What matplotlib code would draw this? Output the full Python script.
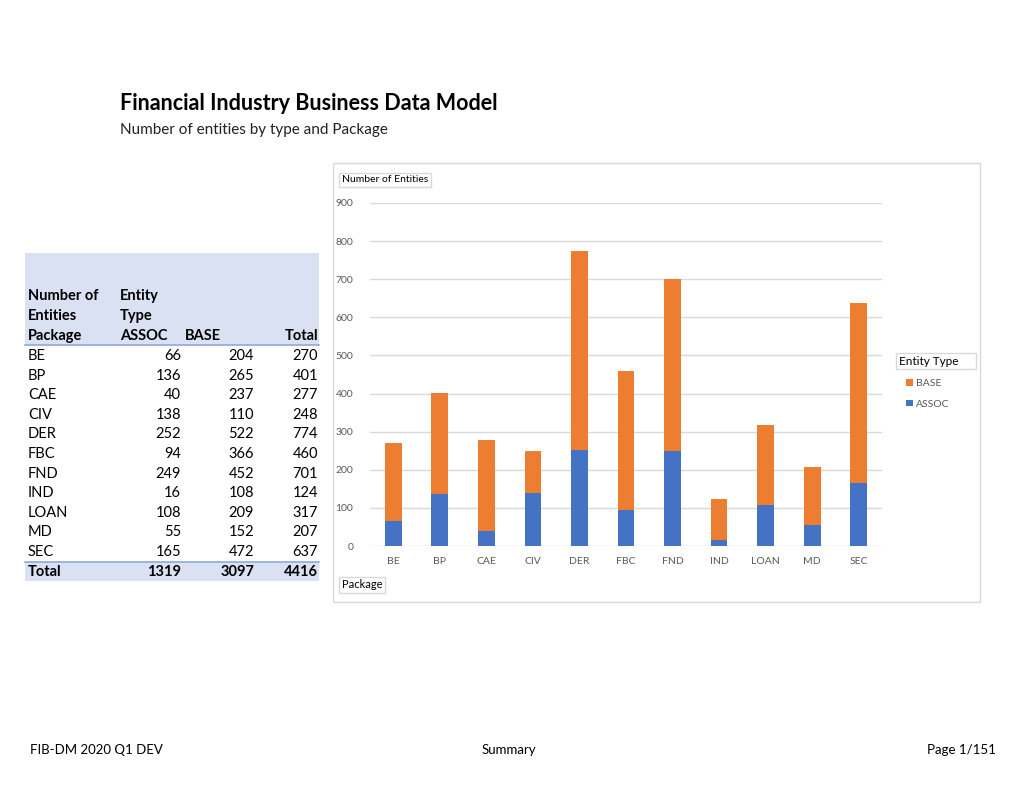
import matplotlib.pyplot as plt
from matplotlib.patches import Rectangle

packages = ["BE", "BP", "CAE", "CIV", "DER", "FBC", "FND", "IND", "LOAN", "MD", "SEC"]
assoc = [66, 136, 40, 138, 252, 94, 249, 16, 108, 55, 165]
base = [204, 265, 237, 110, 522, 366, 452, 108, 209, 152, 472]
totals = [a + b for a, b in zip(assoc, base)]

plt.rcParams['font.family'] = ['Lato', 'DejaVu Sans']

W, H = 1020, 788
fig = plt.figure(figsize=(W / 100, H / 100), dpi=100)


def fx(x):
    return x / W


def fy(y):
    return 1 - y / H


def txt(x, y, s, **kw):
    fig.text(fx(x), fy(y), s, **kw)


# title
txt(120, 104, "Financial Industry Business Data Model", fontsize=15.5, fontweight='bold', va='center')
txt(120, 130, "Number of entities by type and Package", fontsize=11, va='center', color='#222222')

# table
hdr = '#D9E1F2'
line = '#8EA9DB'
fig.patches.append(Rectangle((fx(25), fy(345)), fx(319) - fx(25), fy(253) - fy(345),
                             transform=fig.transFigure, facecolor=hdr, edgecolor='none'))
fig.patches.append(Rectangle((fx(25), fy(581)), fx(319) - fx(25), fy(562) - fy(581),
                             transform=fig.transFigure, facecolor=hdr, edgecolor='none'))
fig.lines.append(plt.Line2D([fx(25), fx(319)], [fy(345), fy(345)], transform=fig.transFigure, color=line, lw=1.2))
fig.lines.append(plt.Line2D([fx(25), fx(319)], [fy(562), fy(562)], transform=fig.transFigure, color=line, lw=1.2))

ts = 10.5
b = dict(fontsize=ts, fontweight='bold', va='center')
txt(28, 296, "Number of", **b)
txt(28, 316, "Entities", **b)
txt(28, 336, "Package", **b)
txt(120, 296, "Entity", **b)
txt(120, 316, "Type", **b)
txt(120, 336, "ASSOC", **b)
txt(185, 336, "BASE", **b)
txt(318, 336, "Total", ha='right', **b)

row0, step = 356, 19.6
for i, p in enumerate(packages):
    y = row0 + i * step
    txt(28, y, p, fontsize=ts, va='center')
    txt(181, y, str(assoc[i]), fontsize=ts, va='center', ha='right')
    txt(254, y, str(base[i]), fontsize=ts, va='center', ha='right')
    txt(318, y, str(totals[i]), fontsize=ts, va='center', ha='right')
txt(28, 572, "Total", **b)
txt(181, 572, str(sum(assoc)), ha='right', **b)
txt(254, 572, str(sum(base)), ha='right', **b)
txt(318, 572, str(sum(totals)), ha='right', **b)

# chart border
fig.patches.append(Rectangle((fx(333), fy(602)), fx(980) - fx(333), fy(163) - fy(602),
                             transform=fig.transFigure, facecolor='none', edgecolor='#D9D9D9', lw=1))

ax = fig.add_axes([fx(370), fy(546), fx(882) - fx(370), fy(203) - fy(546)])
x = range(len(packages))
b1 = ax.bar(x, assoc, width=0.36, color='#4472C4', label='ASSOC', zorder=3)
b2 = ax.bar(x, base, width=0.36, bottom=assoc, color='#ED7D31', label='BASE', zorder=3)
ax.set_ylim(0, 900)
ax.set_xlim(-0.5, len(packages) - 0.5)
ax.set_yticks(range(0, 901, 100))
ax.set_xticks(list(x))
ax.set_xticklabels(packages)
ax.grid(axis='y', color='#D9D9D9', lw=1, zorder=0)
for s in ax.spines.values():
    s.set_visible(False)
ax.tick_params(length=0, labelsize=7.5, labelcolor='#595959')
ax.tick_params(axis='x', pad=8)
ax.tick_params(axis='y', pad=12)

box = dict(boxstyle='square,pad=0.25', facecolor='white', edgecolor='#D9D9D9', lw=1)
txt(342, 180, "Number of Entities", fontsize=7.5, va='center', bbox=box)
txt(342, 585, "Package", fontsize=8, va='center', bbox=box)
txt(899, 361, "Entity Type     ", fontsize=8.5, va='center', bbox=box)

fig.legend([b2, b1], ['BASE', 'ASSOC'], loc='upper left', bbox_to_anchor=(fx(897), fy(370)),
           frameon=False, fontsize=7.5, handlelength=0.6, handleheight=0.6, handletextpad=0.3,
           labelspacing=1.1, labelcolor='#595959')

# footer
txt(30, 750, "FIB-DM 2020 Q1 DEV", fontsize=9.5, va='center')
txt(509, 750, "Summary", fontsize=9.5, va='center', ha='center')
txt(996, 750, "Page 1/151", fontsize=9.5, va='center', ha='right')

fig.savefig('out.png', dpi=100)
